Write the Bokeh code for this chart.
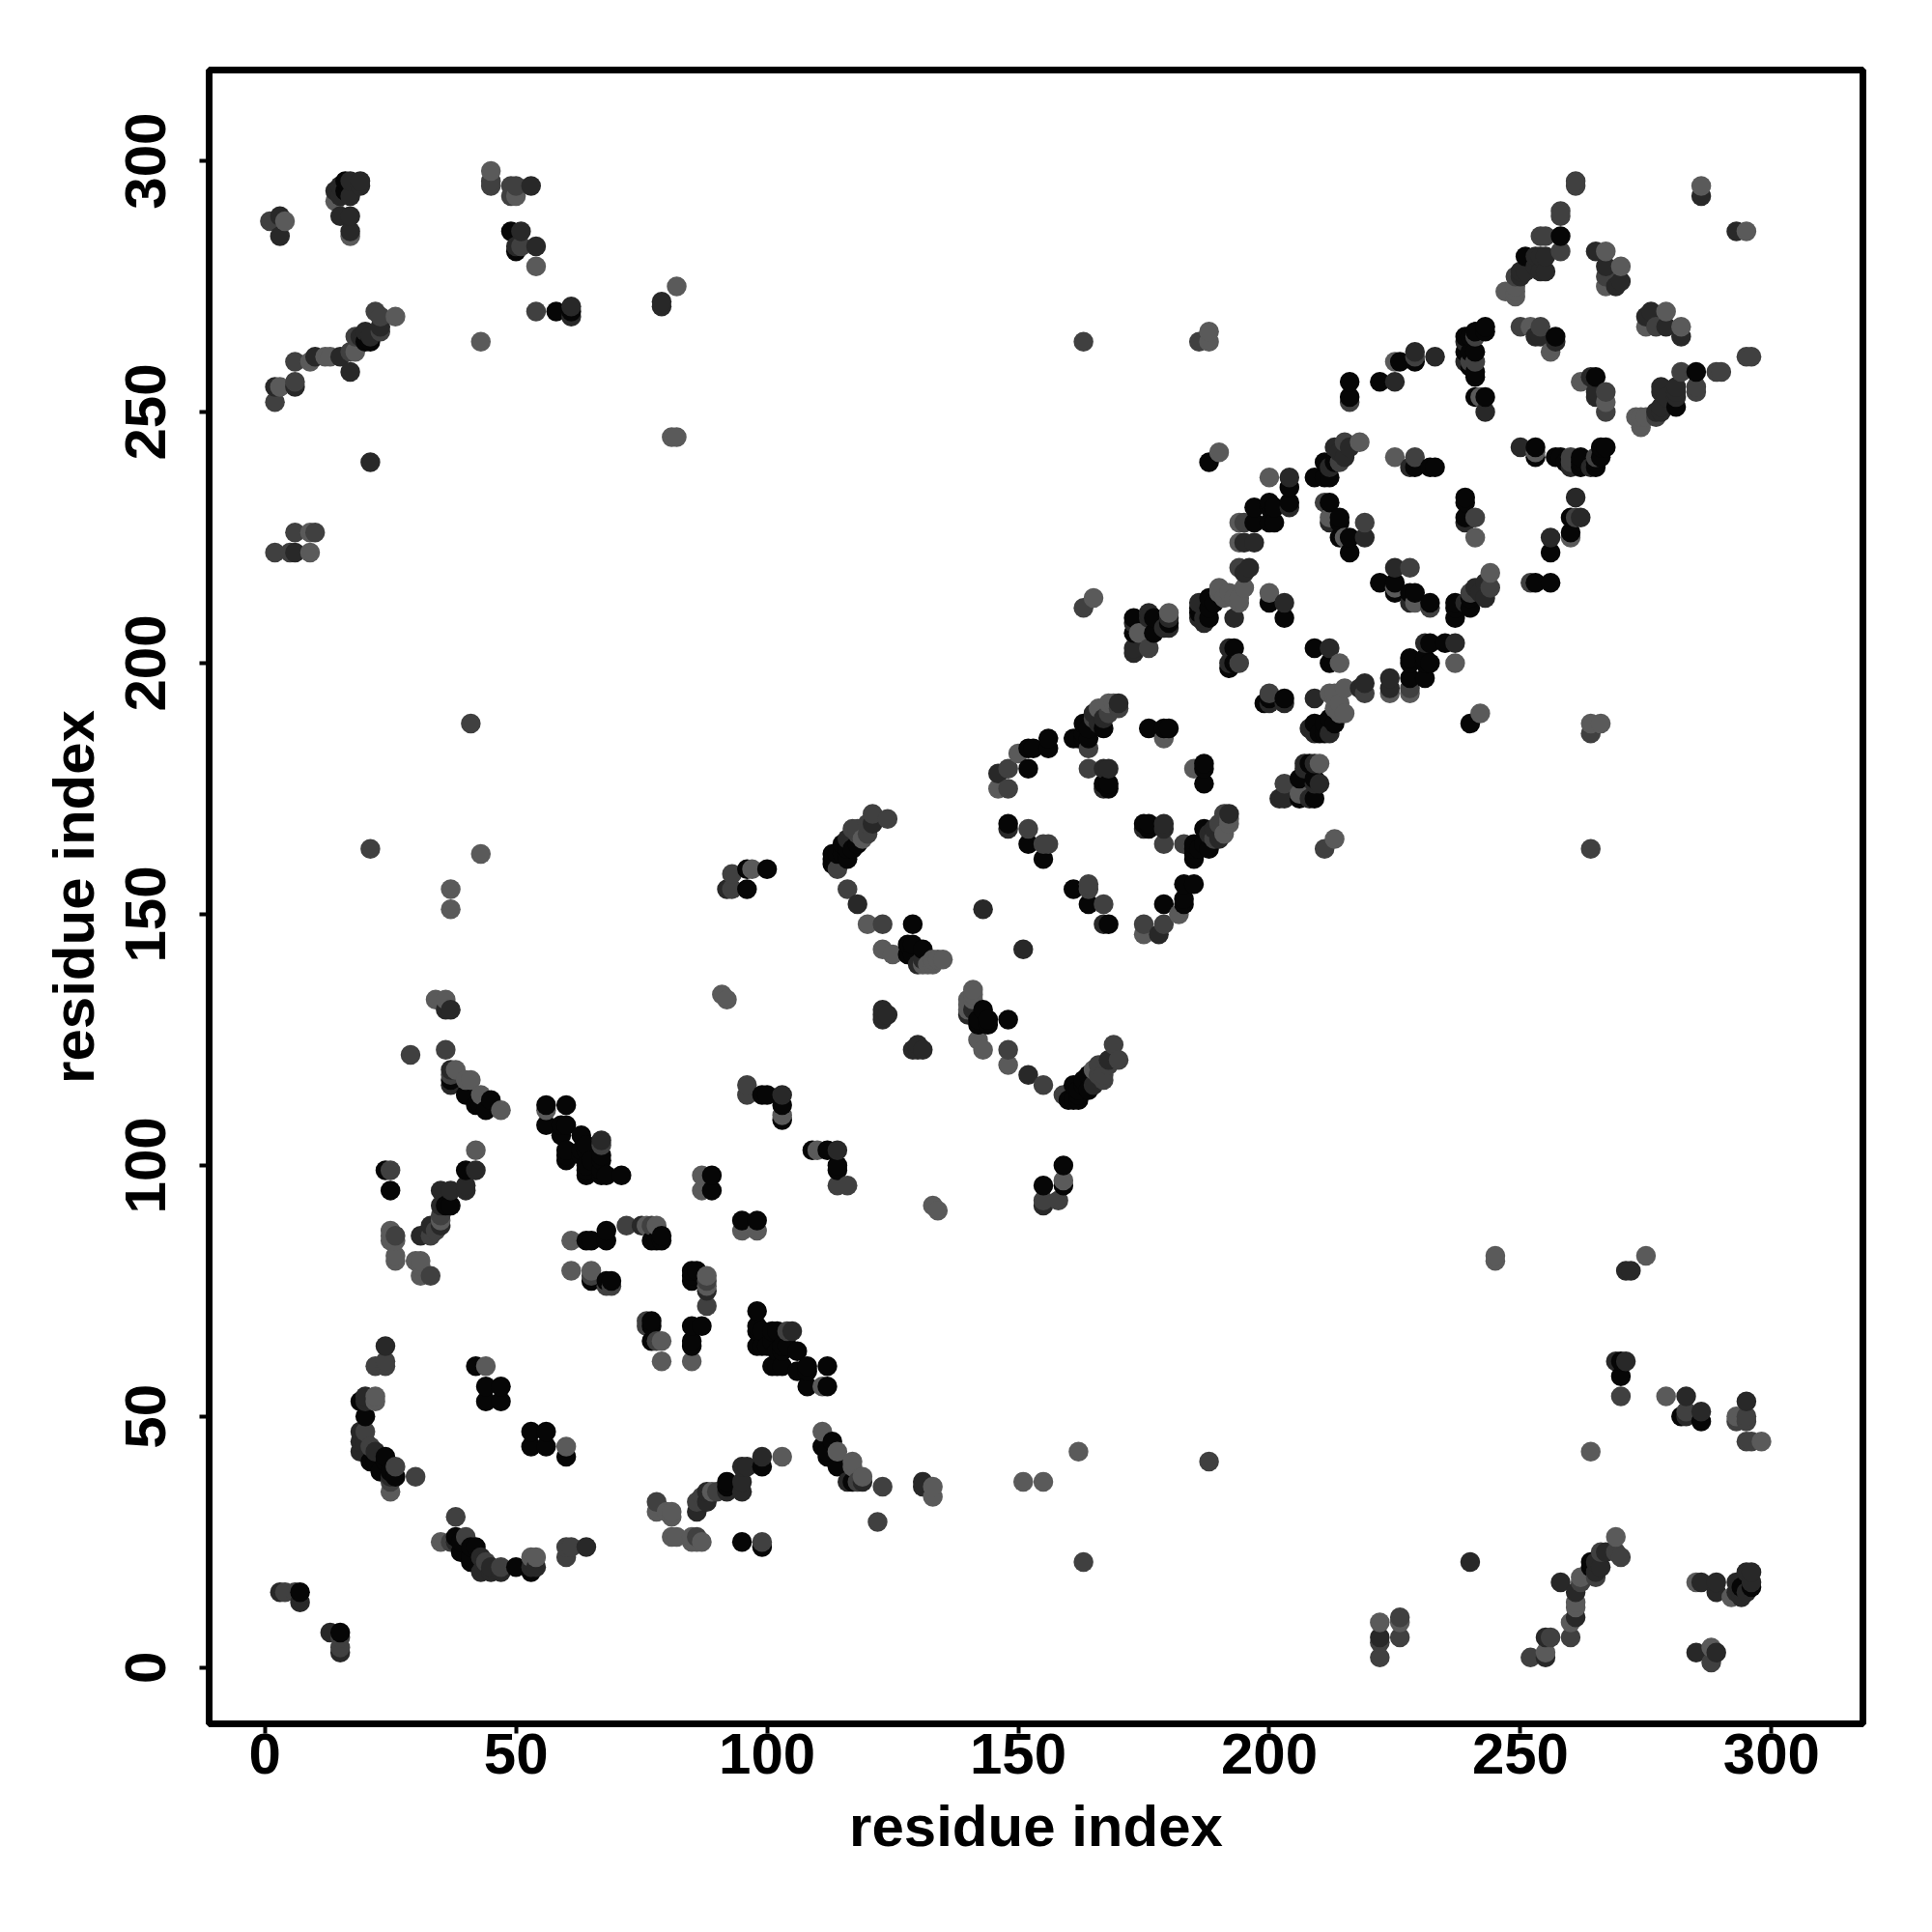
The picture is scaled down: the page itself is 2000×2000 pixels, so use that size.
from bokeh.plotting import figure
from bokeh.models import ColumnDataSource, FixedTicker, Range1d
from bokeh.embed import file_html
from bokeh.resources import INLINE

tick_values = [0, 50, 100, 150, 200, 250, 300]
axis_title = "residue index"
grey_black = "#060606"
grey_dark = "#282828"
grey_mid = "#404040"
grey_light = "#5a5a5a"

contacts_black = [
(7,15),(19,53),(20,50),(21,41),(23,39),(24,42),(26,38),(24,41),(22,41),(38,26),(39,25),(39,23),(41,24),(42,24),(50,20),
(25,95),(40,99),(36,92),(44,56),(47,56),(44,53),(47,53),(42,60),(53,47),(56,47),(53,44),(56,44),(60,42),
(64,85),(65,85),(68,87),(68,85),(77,85),(78,85),(79,85),(65,77),(68,77),(69,77),(77,68),(77,65),(85,68),(87,68),(85,65),(85,79),(86,79),(85,77),(89,98),(89,95),(95,89),(99,24),(99,40),(92,37),
(98,68),(98,67),(98,64),(101,67),(101,65),(102,63),(102,60),(102,67),(103,60),(106,63),(106,59),(108,56),(112,56),(104,64),(56,108),(59,108),(59,106),(60,103),(63,103),(64,103),(60,102),(63,102),(67,102),(64,99),(67,99),(71,98),(64,98),(67,98),(68,98),(64,100),(60,101),(56,112),(60,112),(60,108),(63,106),
(111,44),(113,45),(112,42),(114,40),(43,112),(37,117),(99,114),(103,112),(103,109),(112,103),(114,100),(155,96),(159,100),(159,96),
(118,164),(116,161),(113,162),(115,162),(116,163),(117,163),(128,142),(129,144),(131,143),(143,131),(142,129),(142,128),(144,128),(148,129),(161,116),(162,114),(160,113),(161,113),(162,113),(164,115),
(152,179),(167,176),(168,176),(168,175),(148,168),(152,164),(155,161),(161,155),(164,152),(168,148),(175,168),(176,168),(187,167),(188,163),(186,163),(185,164),(185,162),(185,161),(187,164),
(183,156),(185,156),(179,152),(183,153),(183,152),(187,179),(187,180),(187,176),(206,177),(208,180),(206,173),
(153,183),(156,185),(161,185),(163,185),(163,188),(164,185),(167,187),(176,187),(179,187),(180,187),
(188,240),(204,235),(200,232),(197,231),(201,231),(197,228),(200,228),(209,237),(211,237),(212,237),(211,240),(213,240),(229,239),(232,239),(233,239),
(212,232),(214,229),(214,225),(216,225),(216,222),(222,216),(225,216),(228,214),(232,212),(177,209),(177,206),(173,209),(173,206),(188,213),(186,211),(189,212),(200,212),(203,209),
(193,203),(193,200),(192,199),(209,203),(212,200),(199,192),(203,193),(209,188),(210,186),(213,188),(211,188),(211,186),(228,197),(228,201),(231,197),(231,200),(232,204),(235,204),(232,200),
(258,285),(251,281),(285,258),(281,251),(257,265),(265,257),(243,267),(241,266),(240,265),(239,262),(241,262),(241,257),(241,253),(243,253),(240,259),(226,260),(229,260),
(216,256),(222,256),(216,253),(253,243),(253,241),(257,241),(258,241),(262,240),(265,240),(266,243),(267,243),(262,239),(265,239),(239,233),(239,232),(239,229),(260,229),(260,226),
(270,61),(270,58),(282,50),(286,49),(264,21),(264,20),(294,16),(296,16),
]

contacts_dark = [
(3,15),(7,13),(24,64),(20,53),(20,54),(19,47),(19,45),(19,43),(22,43),(25,38),(45,19),(45,20),(53,19),(54,20),(64,24),(43,19),(20,45),
(24,99),(42,99),(40,95),(35,95),(37,95),(37,92),(35,92),(35,88),(33,88),(31,86),(75,88),(79,86),(85,64),(88,75),(98,89),(86,31),(88,33),(95,25),(95,37),(95,35),(96,40),(99,42),(95,40),
(98,71),(105,67),(108,60),(108,59),(112,60),(116,37),(119,37),(36,131),(131,37),(114,99),(103,114),(109,103),(155,92),
(121,168),(116,165),(118,152),(129,148),(128,144),(130,140),(143,151),(140,130),(141,131),(152,118),(123,131),(123,129),(124,130),(129,123),(130,124),(130,123),(131,123),(164,118),(165,116),
(146,178),(167,179),(168,179),(167,175),(148,167),(179,168),(175,167),(179,167),(188,166),(192,170),(190,165),(202,173),(203,173),(207,179),(209,176),(208,173),
(152,183),(156,183),(170,192),(167,189),(180,209),(180,207),(176,210),(173,203),(188,211),(186,209),(188,209),(187,209),(193,209),(196,219),(195,218),(203,212),(192,203),(192,200),(212,203),(200,192),(203,192),(209,193),(219,196),(208,187),(212,186),(224,197),
(204,237),(204,231),(195,224),(197,224),(213,243),(215,241),(216,243),(212,239),(214,242),(214,228),(212,228),(219,225),(225,219),(225,214),(229,214),
(254,281),(254,278),(251,278),(250,278),(265,282),(267,279),(270,276),(269,275),(276,270),(279,267),(282,265),(281,255),(278,255),(278,251),(277,250),(281,253),(279,253),
(254,265),(264,257),(265,254),(265,253),(243,250),(229,262),(233,261),(225,256),(250,243),(260,239),(264,239),(239,228),(261,233),(256,225),(256,222),
(271,79),(272,79),(269,61),(271,61),(283,54),(286,51),(283,50),(295,53),(240,21),(267,23),(265,21),(266,20),(265,19),(258,17),(261,15),(261,10),(255,6),(255,2),
(286,17),(289,17),(289,15),(294,14),(293,15),(293,17),(296,19),(295,19),(296,17),(295,15),(285,3),(289,3),(222,6),(286,293),
]

contacts_mid = [
(4,15),(6,15),(22,60),(24,60),(24,61),(20,47),(21,44),(26,40),(30,38),(25,37),(38,30),(40,26),(43,22),(44,21),(47,20),(60,24),(61,24),
(25,99),(33,86),(26,86),(33,78),(72,88),(65,78),(68,76),(69,76),(76,69),(88,72),(77,88),(99,25),(86,33),(87,34),(90,35),
(104,67),(67,105),(118,37),(123,36),(122,29),(37,131),(36,123),(188,41),(163,21),(114,96),(116,96),(100,114),(114,103),(155,93),(158,93),(96,116),
(121,170),(124,169),(118,167),(113,160),(114,159),(116,155),(123,148),(148,123),(155,116),(170,121),(168,120),(166,120),(166,118),(167,117),(159,114),
(164,179),(152,167),(156,164),(164,155),(167,152),(167,148),(179,164),(183,164),(191,170),(175,148),(179,148),(178,146),(207,180),(211,163),
(164,183),(165,189),(170,191),(168,190),(176,203),(200,194),(194,200),(219,194),(224,195),
(204,232),(195,228),(215,244),(214,240),(228,239),(219,228),(228,219),(228,212),(232,211),
(258,290),(254,285),(255,285),(258,282),(249,277),(267,277),(275,269),(282,258),(289,258),(285,255),(285,254),(295,261),(296,261),
(250,267),(254,267),(257,264),(267,254),(267,250),(239,264),(239,260),(241,260),(265,241),(260,240),(241,229),(262,229),(261,229),(216,252),
(186,264),(163,264),(270,54),(283,51),(295,50),(293,49),(295,49),(295,45),(296,45),(270,22),(266,23),(269,23),(265,18),(262,17),(260,6),(256,6),(252,2),(288,1),(222,5),(222,2),(226,10),(226,6),(1,288),(3,289),
]

contacts_light = [
(25,35),(22,54),(22,53),(35,25),(53,22),(54,22),(60,22),(40,96),(35,90),(25,87),(25,86),(26,85),(26,82),(26,81),(30,81),(31,81),(31,78),(44,60),(60,44),
(61,85),(76,88),(78,88),(61,79),(65,79),(79,65),(79,61),(85,61),(88,78),(88,77),(87,98),(87,95),(95,87),(98,87),(80,31),(81,26),(82,26),(85,26),(86,25),(87,25),(85,25),(89,35),(103,42),
(111,56),(56,111),(111,47),(47,111),(114,43),(117,41),(117,40),(119,38),(34,133),(36,133),(133,36),(133,34),(151,37),(155,37),(162,43),(103,110),(110,103),(42,103),(133,92),(134,91),(159,97),
(120,166),(119,165),(120,148),(123,143),(125,142),(132,140),(134,141),(135,141),(133,141),(131,140),(141,135),(140,133),(140,131),(144,129),(142,125),(143,123),(148,120),(169,124),
(148,179),(146,175),(148,175),(192,168),(191,166),(182,150),(175,146),(185,179),(203,176),(206,174),(210,180),(213,165),(150,182),(166,191),(169,192),(179,185),
(190,242),(200,237),(194,228),(194,224),(218,244),(225,241),(229,241),(211,232),(212,229),(215,225),(229,212),(180,210),(174,206),(165,213),(163,211),(190,215),(190,214),(194,219),(195,215),(194,213),(200,214),(214,200),(212,194),(215,195),(213,193),(213,191),(215,190),(214,192),(228,194),
(286,295),(247,274),(249,274),(249,273),(267,282),(270,279),(267,275),(279,270),(275,267),(282,267),(273,249),(274,247),(275,249),(252,267),(256,262),(262,256),(242,253),(225,260),(241,225),(260,225),
(188,264),(188,266),(245,82),(245,81),(275,82),(279,54),(293,50),(298,45),(264,43),(269,26),(262,18),(261,13),(261,12),(260,9),(255,3),(285,17),(292,14),(288,4),(222,9),(226,9),(4,288),
]

rows = {}
for pairs, colour in ((contacts_light, grey_light), (contacts_mid, grey_mid),
                      (contacts_dark, grey_dark), (contacts_black, grey_black)):
    for a, b in pairs:
        rows[(a, b)] = colour
        rows[(b, a)] = colour
order = sorted(rows)
src = ColumnDataSource(dict(x=[k[0] for k in order], y=[k[1] for k in order],
                            c=[rows[k] for k in order]))

p = figure(width=1984, height=1984, frame_width=1712, frame_height=1712,
           output_backend="svg", toolbar_location=None,
           x_range=Range1d(-11.1, 318.2), y_range=Range1d(-11.2, 318.1),
           min_border_left=216, min_border_right=56, min_border_top=72, min_border_bottom=200,
           background_fill_color="white", border_fill_color="white")
p.grid.visible = False
p.scatter("x", "y", source=src, size=20.5, fill_color="c", line_color=None)

p.outline_line_color = "black"
p.outline_line_width = 7
p.outline_line_alpha = 1

for ax in (p.xaxis[0], p.yaxis[0]):
    ax.ticker = FixedTicker(ticks=tick_values)
    ax.axis_line_color = None
    ax.major_tick_line_color = "black"
    ax.major_tick_line_width = 4
    ax.major_tick_out = 10
    ax.major_tick_in = 0
    ax.minor_tick_line_color = None
    ax.axis_label = axis_title
    ax.axis_label_text_font = "Liberation Sans"
    ax.axis_label_text_font_style = "bold"
    ax.axis_label_text_font_size = "60px"
    ax.axis_label_text_color = "black"
    ax.major_label_text_font = "Liberation Sans"
    ax.major_label_text_font_style = "bold"
    ax.major_label_text_font_size = "60px"
    ax.major_label_text_color = "black"
p.xaxis[0].major_label_standoff = 0
p.xaxis[0].axis_label_standoff = 18
p.yaxis[0].major_label_standoff = 35
p.yaxis[0].major_label_orientation = "vertical"
p.yaxis[0].axis_label_standoff = 18

open("out.html", "w").write(file_html(p, INLINE))
